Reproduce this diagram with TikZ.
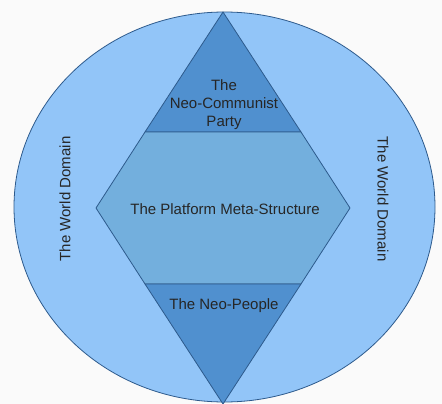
\documentclass[tikz,border=0pt]{standalone}
\usepackage{fontspec}
\setmainfont{Liberation Sans}
\definecolor{bgc}{RGB}{250,250,250}
\definecolor{worldc}{RGB}{146,197,248}
\definecolor{darkc}{RGB}{80,144,207}
\definecolor{midc}{RGB}{115,175,221}
\definecolor{linec}{RGB}{45,90,140}
\begin{document}
\begin{tikzpicture}[x=1pt,y=-1pt,
  shape line/.style={draw=linec,line width=0.8pt,line join=miter},
  lbl/.style={font=\fontsize{15}{18}\selectfont,text=black!85,align=center,inner sep=0pt}]
\useasboundingbox (0,0) rectangle (442,404);
\fill[bgc] (0,0) rectangle (442,404);
\begin{scope}
\clip (0,0) rectangle (442,404);
% world ellipse
\filldraw[shape line,fill=worldc] (224.5,207) ellipse [x radius=210.5,y radius=195];
% top triangle
\filldraw[shape line,fill=darkc] (223,12) -- (145,132) -- (301,132) -- cycle;
% hexagon
\filldraw[shape line,fill=midc] (145,132) -- (301,132) -- (350,208) -- (301,284) -- (145,284) -- (96,208) -- cycle;
% bottom triangle
\filldraw[shape line,fill=darkc] (145,284) -- (301,284) -- (223,404) -- cycle;
\end{scope}
\node[lbl] (party) at (224,105) {The\\Neo-Communist\\Party};
\node[lbl] (platform) at (225,209) {The Platform Meta-Structure};
\node[lbl] (people) at (224,306) {The Neo-People};
\node[lbl,rotate=90] (wl) at (65,199) {The World Domain};
\node[lbl,rotate=-90] (wr) at (383,199) {The World Domain};
\end{tikzpicture}
\end{document}
